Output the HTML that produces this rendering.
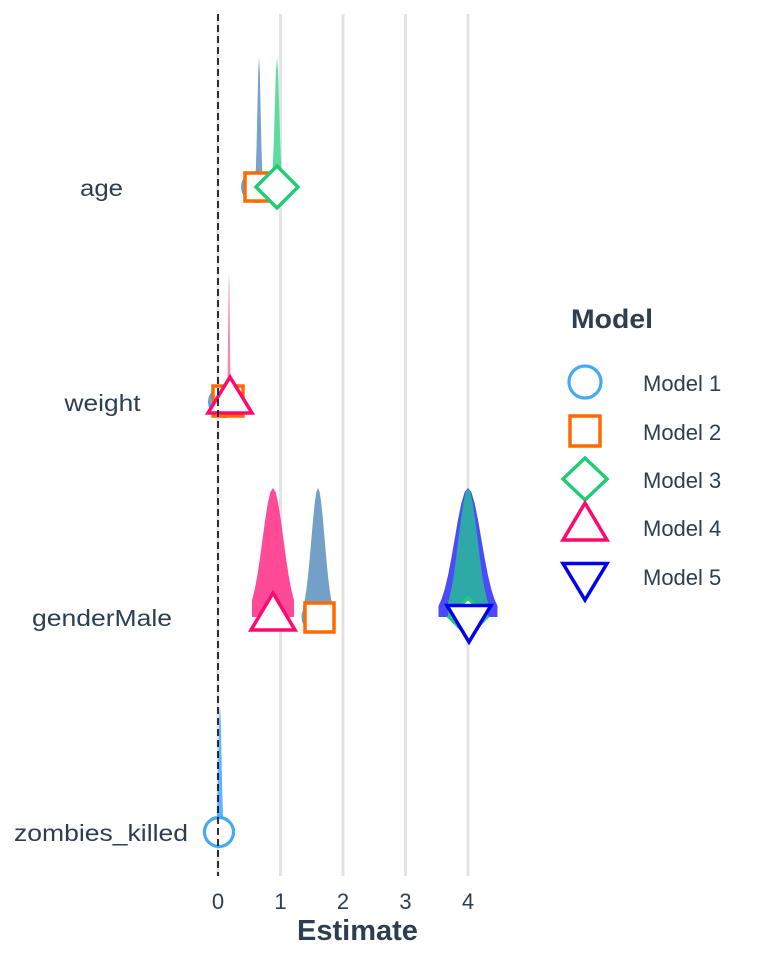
<!DOCTYPE html>
<html><head><meta charset="utf-8"><style>
html,body{margin:0;padding:0;background:#fff;}
svg{display:block;}
text{font-family:"Liberation Sans",Arial,sans-serif;fill:#2c3e50;}
</style></head><body>
<svg width="768" height="960" viewBox="0 0 768 960" xmlns="http://www.w3.org/2000/svg">
<rect width="768" height="960" fill="#fff"/>
<!-- gridlines -->
<g stroke="#e3e3e3" stroke-width="3">
<line x1="280.5" y1="14" x2="280.5" y2="876"/>
<line x1="343" y1="14" x2="343" y2="876"/>
<line x1="405.5" y1="14" x2="405.5" y2="876"/>
<line x1="468" y1="14" x2="468" y2="876"/>
<line x1="218" y1="14" x2="218" y2="876"/>
</g>
<!-- violins -->
<path d="M255,187 L255,181.3 L255.8,169.4 L256.6,144.8 L257.4,108.2 L258.2,72.3 L259,57 L259.8,72.3 L260.6,108.2 L261.4,144.8 L262.2,169.4 L263,181.3 L263,187 Z" fill="#76a2cc"/>
<path d="M271.5,187 L271.5,181.3 L272.6,169.4 L273.7,144.8 L274.8,108.2 L275.9,72.3 L277,57 L278.1,72.3 L279.2,108.2 L280.3,144.8 L281.4,169.4 L282.5,181.3 L282.5,187 Z" fill="#5cdca0"/>
<path d="M227,402 L227,396.3 L227.4,384.4 L227.8,359.8 L228.2,323.2 L228.6,287.3 L229,272 L229.4,287.3 L229.8,323.2 L230.2,359.8 L230.6,384.4 L231,396.3 L231,402 Z" fill="#f28ab2"/>
<path d="M252,617 L252,600.2 L254.8,589.1 L257.4,575.1 L260,558 L262.6,538.8 L265.2,519.6 L267.8,503.2 L270.4,492 L273,488 L275.6,492 L278.2,503.2 L280.8,519.6 L283.4,538.8 L286,558 L288.6,575.1 L291.2,589.1 L294,600.2 L294,617 Z" fill="#ff4a98"/>
<path d="M303,617 L303,607.2 L304.8,599.5 L306.45,589.1 L308.1,575.1 L309.75,558 L311.4,538.8 L313.05,519.6 L314.7,503.2 L316.35,492 L318,488 L319.65,492 L321.3,503.2 L322.95,519.6 L324.6,538.8 L326.25,558 L327.9,575.1 L329.55,589.1 L331.2,599.5 L333,607.2 L333,617 Z" fill="#74a0c8"/>
<path d="M438.5,617 L438.5,606 L441.4,599.5 L444.725,589.1 L448.05,575.1 L451.375,558 L454.7,538.8 L458.025,519.6 L461.35,503.2 L464.675,492 L468,488 L471.325,492 L474.65,503.2 L477.975,519.6 L481.3,538.8 L484.625,558 L487.95,575.1 L491.275,589.1 L494.6,599.5 L497.5,606 L497.5,617 Z" fill="#4b4bfa"/>
<path d="M448,617 L448,602.8 L449,599.5 L451.375,589.1 L453.75,575.1 L456.125,558 L458.5,538.8 L460.875,519.6 L463.25,503.2 L465.625,492 L468,489 L470.375,492 L472.75,503.2 L475.125,519.6 L477.5,538.8 L479.875,558 L482.25,575.1 L484.625,589.1 L487,599.5 L488,602.8 L488,617 Z" fill="#2fa8a8"/>
<path d="M216.25,832 L216.25,826.4 L217,814.8 L217.75,790.8 L218.5,755 L219.25,720 L220,705 L220.75,720 L221.5,755 L222.25,790.8 L223,814.8 L223.75,826.4 L223.75,832 Z" fill="#5ab4ff"/>
<!-- markers: age -->
<circle cx="257" cy="187" r="14.5" fill="#fff" stroke="#45aaf2" stroke-width="3"/>
<rect x="245" y="173" width="28" height="28" fill="#fff" stroke="#ff6a00" stroke-width="3.5"/>
<path d="M277,166 L298,187 L277,208 L256,187 Z" fill="#fff" stroke="#22cc77" stroke-width="3.5"/>
<!-- weight -->
<circle cx="224" cy="402" r="14.5" fill="#fff" stroke="#45aaf2" stroke-width="3"/>
<rect x="213" y="386" width="30" height="30" fill="#fff" stroke="#ff6a00" stroke-width="3.5"/>
<path d="M230,377 L252,413 L208,413 Z" fill="#fff" stroke="#ff0a6c" stroke-width="3.5"/>
<!-- genderMale -->
<circle cx="318" cy="617" r="15" fill="#fff" stroke="#45aaf2" stroke-width="3"/>
<rect x="305" y="603" width="29" height="29" fill="#fff" stroke="#ff6a00" stroke-width="3.5"/>
<path d="M273,593 L295,630 L251,630 Z" fill="#fff" stroke="#ff0a6c" stroke-width="3.5"/>
<path d="M468,598 L487,617 L468,636 L449,617 Z" fill="#fff" stroke="#22cc77" stroke-width="3.5"/>
<path d="M447,605.5 L491,605.5 L469,642 Z" fill="#fff" stroke="#0000ee" stroke-width="3.5"/>
<!-- zombies -->
<circle cx="219" cy="832" r="14.5" fill="#fff" stroke="#45aaf2" stroke-width="3.2"/>
<!-- zero dashed line -->
<line x1="218" y1="14" x2="218" y2="876" stroke="#000" stroke-width="1.6" stroke-dasharray="7,4"/>
<!-- y labels -->
<g font-size="23" text-anchor="middle">
<text x="101.5" y="196" textLength="43" lengthAdjust="spacingAndGlyphs">age</text>
<text x="102.5" y="411" textLength="76" lengthAdjust="spacingAndGlyphs">weight</text>
<text x="102" y="626" textLength="140" lengthAdjust="spacingAndGlyphs">genderMale</text>
<text x="101" y="841" textLength="174" lengthAdjust="spacingAndGlyphs">zombies_killed</text>
</g>
<!-- x ticks -->
<g font-size="22" text-anchor="middle">
<text x="218" y="909">0</text>
<text x="280.5" y="909">1</text>
<text x="343" y="909">2</text>
<text x="405.5" y="909">3</text>
<text x="468" y="909">4</text>
</g>
<text x="357.5" y="940" font-size="29" font-weight="bold" text-anchor="middle">Estimate</text>
<!-- legend -->
<text x="571" y="328" font-size="27" font-weight="bold" textLength="82" lengthAdjust="spacingAndGlyphs">Model</text>
<circle cx="585" cy="382" r="16" fill="#fff" stroke="#45aaf2" stroke-width="3.2"/>
<rect x="570" y="416" width="30" height="30" fill="#fff" stroke="#ff6a00" stroke-width="3.5"/>
<path d="M585,458 L607,479 L585,500 L563,479 Z" fill="#fff" stroke="#22cc77" stroke-width="3.5"/>
<path d="M585,503 L607,540 L563,540 Z" fill="#fff" stroke="#ff0a6c" stroke-width="3.5"/>
<path d="M563,563.5 L607,563.5 L585,600 Z" fill="#fff" stroke="#0000ee" stroke-width="3.5"/>
<g font-size="22">
<text x="643" y="391">Model 1</text>
<text x="643" y="440">Model 2</text>
<text x="643" y="488">Model 3</text>
<text x="643" y="536">Model 4</text>
<text x="643" y="585">Model 5</text>
</g>
</svg>
</body></html>
